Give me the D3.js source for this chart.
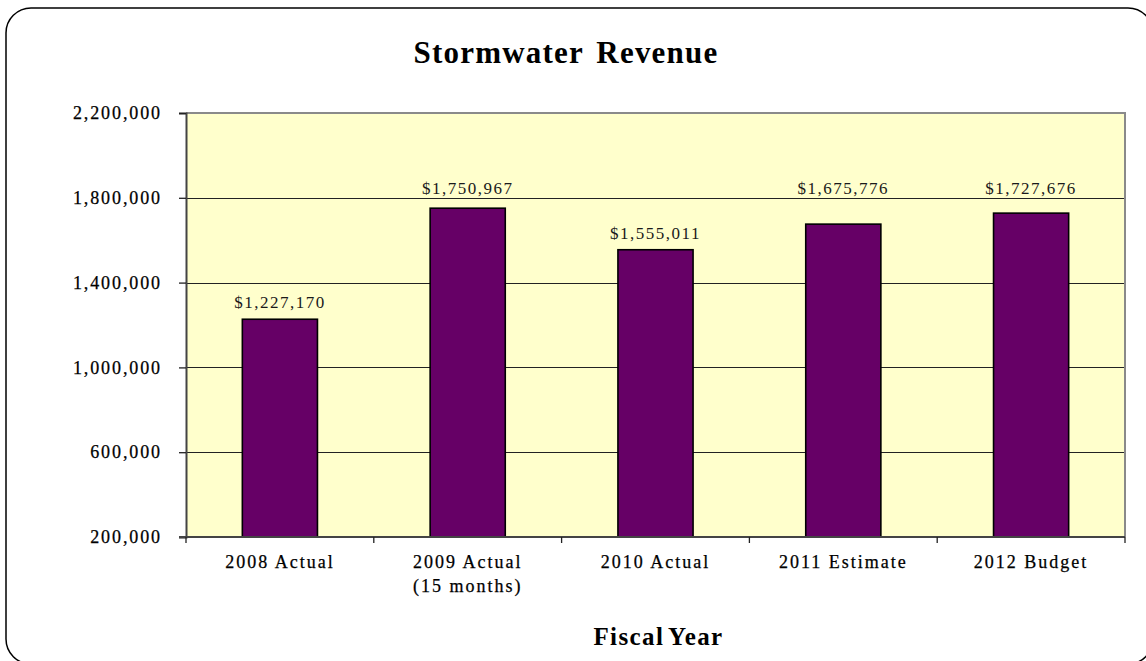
<!DOCTYPE html>
<html>
<head>
<meta charset="utf-8">
<script src="https://cdn.jsdelivr.net/npm/d3@7"></script>
<style>
  html, body { margin: 0; padding: 0; background: #ffffff; }
  svg { display: block; }
</style>
</head>
<body>
<svg id="chart" width="1146" height="661"></svg>
<script>
// ---- data ----
const categories = ["2008 Actual", "2009 Actual (15 months)", "2010 Actual", "2011 Estimate", "2012 Budget"];
const categoryLines = [["2008 Actual"], ["2009 Actual", "(15 months)"], ["2010 Actual"], ["2011 Estimate"], ["2012 Budget"]];
const revenue = [1227170, 1750967, 1555011, 1675776, 1727676];
const yTicks = [200000, 600000, 1000000, 1400000, 1800000, 2200000];
const titleText = "Stormwater Revenue";
const xAxisTitle = "Fiscal Year";

// ---- layout ----
const svg = d3.select("#chart");
const plot = { left: 186, right: 1125, top: 113, bottom: 537 };

// outer rounded frame (runs off the right/bottom edges like the reference)
svg.append("rect")
  .attr("x", 6).attr("y", 8)
  .attr("width", 1147).attr("height", 656)
  .attr("rx", 25).attr("ry", 25)
  .attr("fill", "#ffffff")
  .attr("stroke", "#000000").attr("stroke-width", 1.5);

const y = d3.scaleLinear().domain([200000, 2200000]).range([plot.bottom, plot.top]);
const x = d3.scaleBand().domain(categories).range([plot.left, plot.right])
  .paddingInner(0.6).paddingOuter(0.3);
const xBound = d3.scaleBand().domain(categories).range([plot.left, plot.right]).padding(0);

// plot background
svg.append("rect")
  .attr("x", plot.left).attr("y", plot.top)
  .attr("width", plot.right - plot.left).attr("height", plot.bottom - plot.top)
  .attr("fill", "#FFFFCC");

// gridlines
svg.append("g").selectAll("line")
  .data(yTicks.filter(v => v > 200000 && v < 2200000))
  .join("line")
  .attr("x1", plot.left).attr("x2", plot.right)
  .attr("y1", d => Math.round(y(d)) + 0.5).attr("y2", d => Math.round(y(d)) + 0.5)
  .attr("stroke", "#222").attr("stroke-width", 1);

// top & right border of plot area (gray)
svg.append("path")
  .attr("d", `M${plot.left},${y(2200000)}H${plot.right}V${plot.bottom}`)
  .attr("fill", "none").attr("stroke", "#8a8a8a").attr("stroke-width", 2);

// bars
svg.append("g").selectAll("rect")
  .data(revenue)
  .join("rect")
  .attr("x", (d, i) => x(categories[i]))
  .attr("y", d => y(d))
  .attr("width", x.bandwidth())
  .attr("height", d => y(200000) - y(d))
  .attr("fill", "#660066")
  .attr("stroke", "#000").attr("stroke-width", 1.6);

// data labels: placed above bar, lifted over a gridline if it would collide
const fmt = d3.format("$,");
svg.append("g").selectAll("text")
  .data(revenue)
  .join("text")
  .attr("x", (d, i) => x(categories[i]) + x.bandwidth() / 2)
  .attr("y", d => {
    const top = y(d);
    const grid = yTicks.map(v => y(v)).filter(g => g < top && top - g < 30);
    return grid.length ? Math.min(...grid) - 4 : top - 11;
  })
  .attr("text-anchor", "middle")
  .attr("font-family", "Liberation Serif")
  .attr("font-size", 17)
  .attr("letter-spacing", "1.5px")
  .attr("fill", "#1a1a1a")
  .text(d => fmt(d));

// y axis
const yAxis = d3.axisLeft(y).tickValues(yTicks).tickFormat(d3.format(",")).tickSize(7).tickPadding(17);
const gy = svg.append("g").attr("transform", `translate(${plot.left},0)`).call(yAxis);
gy.select(".domain").attr("stroke", "#444").attr("stroke-width", 2);
gy.selectAll(".tick line").attr("stroke", "#222").attr("stroke-width", 1.3);
gy.selectAll(".tick text")
  .attr("font-family", "Liberation Serif")
  .attr("font-size", 18)
  .attr("letter-spacing", "1.9px")
  .attr("stroke", "#000").attr("stroke-width", 0.25)
  .attr("fill", "#000");

// x axis line and boundary ticks
svg.append("line")
  .attr("x1", plot.left - 7).attr("x2", plot.right)
  .attr("y1", plot.bottom).attr("y2", plot.bottom)
  .attr("stroke", "#444").attr("stroke-width", 2);
const bounds = categories.map(c => xBound(c)).concat([plot.right]);
svg.append("g").selectAll("line")
  .data(bounds)
  .join("line")
  .attr("x1", d => d).attr("x2", d => d)
  .attr("y1", plot.bottom).attr("y2", plot.bottom + 6)
  .attr("stroke", "#222").attr("stroke-width", 1.3);

// category labels
const catG = svg.append("g").selectAll("text")
  .data(categoryLines)
  .join("text")
  .attr("text-anchor", "middle")
  .attr("font-family", "Liberation Serif")
  .attr("font-size", 18)
  .attr("letter-spacing", "2px")
  .attr("stroke", "#000").attr("stroke-width", 0.25)
  .attr("fill", "#000");
catG.selectAll("tspan")
  .data((d, i) => d.map(line => ({ line, i })))
  .join("tspan")
  .attr("x", d => xBound(categories[d.i]) + xBound.bandwidth() / 2)
  .attr("y", (d, j) => 568 + j * 24)
  .text(d => d.line);

// title
svg.append("text")
  .attr("x", 566).attr("y", 63)
  .attr("text-anchor", "middle")
  .attr("font-family", "Liberation Serif")
  .attr("font-weight", "bold")
  .attr("font-size", 31)
  .attr("letter-spacing", "1.2px")
  .attr("word-spacing", "4px")
  .attr("fill", "#000")
  .text(titleText);

// x axis title
svg.append("text")
  .attr("x", (plot.left + plot.right) / 2 + 3).attr("y", 645)
  .attr("text-anchor", "middle")
  .attr("font-family", "Liberation Serif")
  .attr("font-weight", "bold")
  .attr("font-size", 25)
  .attr("letter-spacing", "1.4px")
  .attr("word-spacing", "-3px")
  .attr("fill", "#000")
  .text(xAxisTitle);
</script>
</body>
</html>
